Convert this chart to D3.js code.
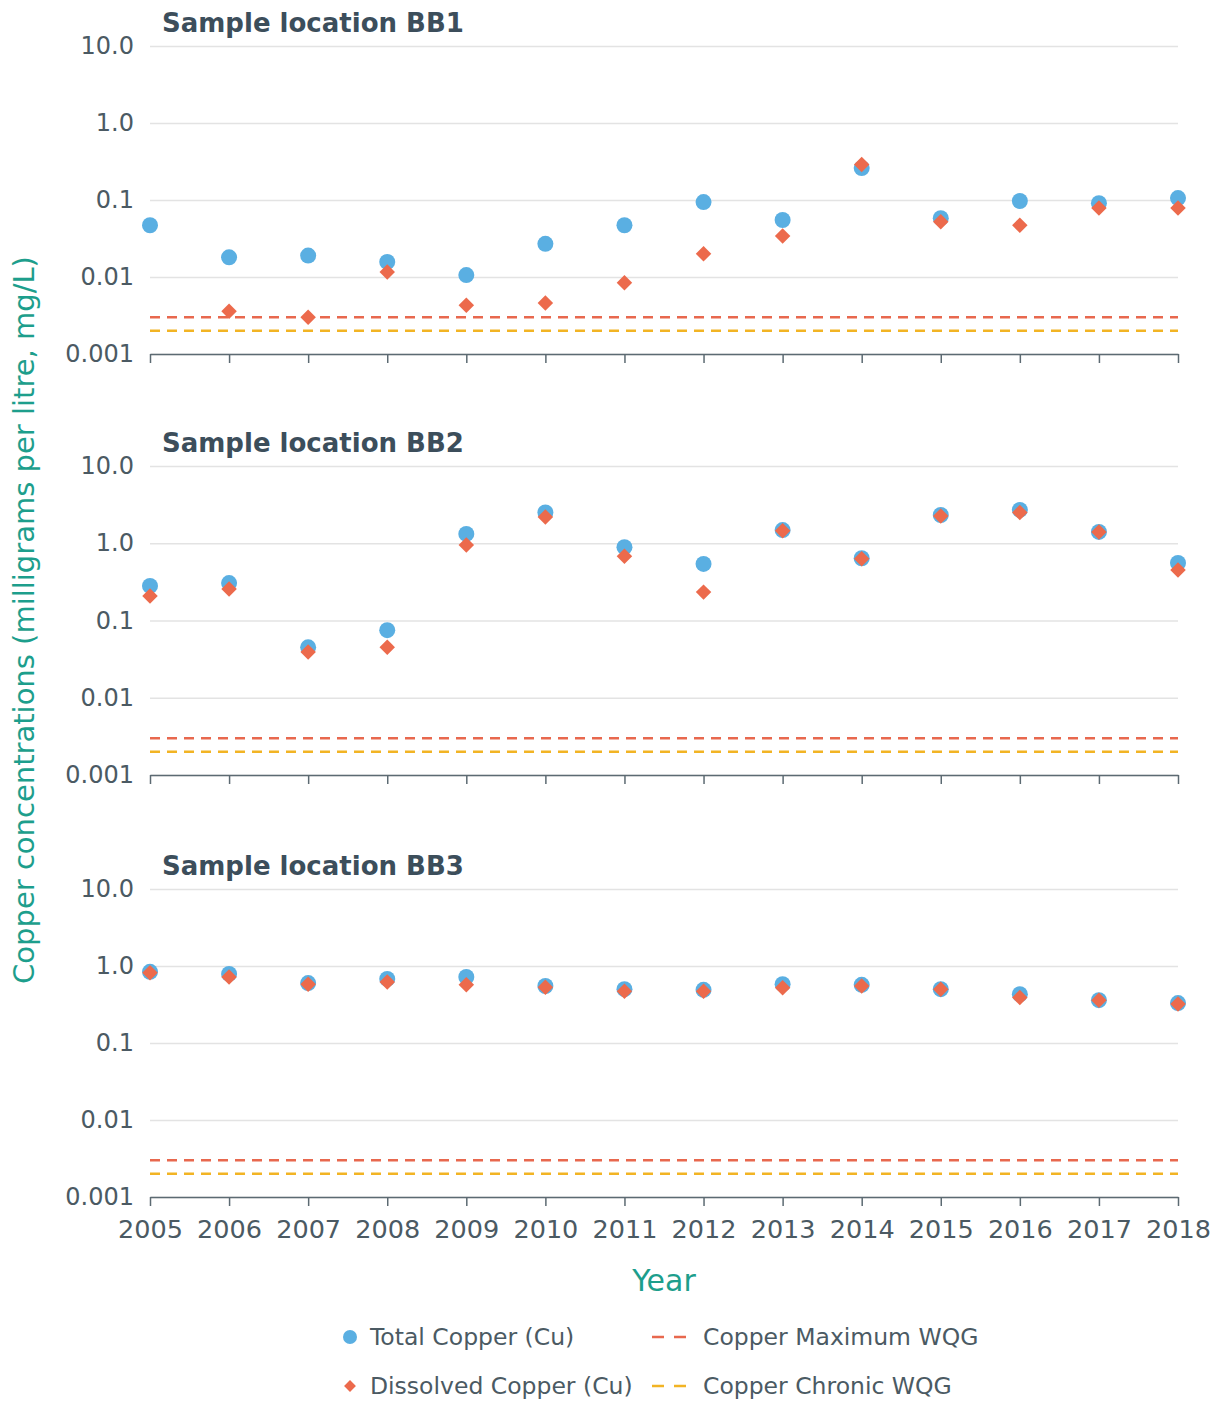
<!DOCTYPE html>
<html>
<head>
<meta charset="utf-8">
<script src="https://cdn.jsdelivr.net/npm/d3@7"></script>
<style>
  body { margin: 0; background: #fff; }
  svg text { font-family: "DejaVu Sans", sans-serif; }
</style>
</head>
<body>
<svg id="chart"></svg>
<script>
// data
const years = [2005, 2006, 2007, 2008, 2009, 2010, 2011, 2012, 2013, 2014, 2015, 2016, 2017, 2018];
const locations = ["BB1", "BB2", "BB3"];

const totalBB1 = [0.047, 0.018, 0.019, 0.0157, 0.0106, 0.027, 0.047, 0.094, 0.055, 0.26, 0.058, 0.097, 0.091, 0.106];
const dissolvedBB1 = [null, 0.0036, 0.0030, 0.0116, 0.0043, 0.0046, 0.0084, 0.020, 0.034, 0.29, 0.052, 0.047, 0.079, 0.079];

const totalBB2 = [0.28, 0.305, 0.045, 0.075, 1.32, 2.5, 0.89, 0.54, 1.48, 0.64, 2.32, 2.7, 1.4, 0.555];
const dissolvedBB2 = [0.207, 0.255, 0.039, 0.045, 0.95, 2.19, 0.68, 0.233, 1.45, 0.63, 2.25, 2.5, 1.4, 0.45];

const totalBB3 = [0.84, 0.79, 0.60, 0.68, 0.72, 0.55, 0.50, 0.49, 0.58, 0.57, 0.50, 0.43, 0.36, 0.33];
const dissolvedBB3 = [0.82, 0.72, 0.58, 0.62, 0.57, 0.53, 0.47, 0.47, 0.52, 0.55, 0.50, 0.39, 0.36, 0.32];

const maxWQG = 0.003;
const chronicWQG = 0.002;

const yTicks = [0.001, 0.01, 0.1, 1, 10];
const yTickLabels = ["0.001", "0.01", "0.1", "1.0", "10.0"];

const totals = [totalBB1, totalBB2, totalBB3];
const dissolved = [dissolvedBB1, dissolvedBB2, dissolvedBB3];

const width = 1227, height = 1402;
const blue = "#5aafe2", red = "#ec6a4c", maxColor = "#e8684e", chronicColor = "#f2b424";
const textColor = "#4b5a63", titleColor = "#3c4e5b", teal = "#1d9e8c";

const svg = d3.select("#chart").attr("width", width).attr("height", height);

const x = d3.scaleLinear().domain([2005, 2018]).range([150, 1178]);

// top / bottom pixel of each panel (10 and 0.001)
const panels = [
    { top: 46, bottom: 354 },
    { top: 466, bottom: 775 },
    { top: 889, bottom: 1197 }
];

const diamond = d3.symbol(d3.symbolSquare, 120);

panels.forEach((p, i) => {
    const y = d3.scaleLog().domain([0.001, 10]).range([p.bottom, p.top]);
    const g = svg.append("g");

    // gridlines + tick labels
    const yAxis = d3.axisLeft(y)
        .tickValues(yTicks)
        .tickFormat((d, k) => yTickLabels[k])
        .tickSize(-(x.range()[1] - x.range()[0]))
        .tickPadding(16);
    const yg = g.append("g").attr("transform", `translate(${x.range()[0]},0)`).call(yAxis);
    yg.select(".domain").remove();
    yg.selectAll(".tick line").attr("stroke", "#e3e3e3").attr("stroke-width", 1.5);
    yg.selectAll(".tick text")
        .attr("fill", textColor)
        .attr("font-size", 24)
        .attr("font-family", "DejaVu Sans");

    // guideline lines
    g.append("line")
        .attr("x1", x.range()[0]).attr("x2", x.range()[1])
        .attr("y1", y(maxWQG)).attr("y2", y(maxWQG))
        .attr("stroke", maxColor).attr("stroke-width", 2.5)
        .attr("stroke-dasharray", "10,7");
    g.append("line")
        .attr("x1", x.range()[0]).attr("x2", x.range()[1])
        .attr("y1", y(chronicWQG)).attr("y2", y(chronicWQG))
        .attr("stroke", chronicColor).attr("stroke-width", 2.5)
        .attr("stroke-dasharray", "10,7");

    // x axis
    const xAxis = d3.axisBottom(x)
        .tickValues(years)
        .tickFormat(i === 2 ? d3.format("d") : "")
        .tickSize(9)
        .tickSizeOuter(0)
        .tickPadding(14);
    const xg = g.append("g").attr("transform", `translate(0,${p.bottom})`).call(xAxis);
    xg.select(".domain").attr("stroke", "#5c6a72").attr("stroke-width", 1.5);
    xg.selectAll(".tick line").attr("stroke", "#5c6a72").attr("stroke-width", 1.5);
    xg.selectAll(".tick text")
        .attr("fill", textColor)
        .attr("font-size", 25.5)
        .attr("font-family", "DejaVu Sans");

    // title
    g.append("text")
        .attr("x", 162).attr("y", p.top - 14)
        .attr("fill", titleColor)
        .attr("font-size", 26)
        .attr("font-weight", "bold")
        .text("Sample location " + locations[i]);

    // total copper
    g.selectAll("circle.total")
        .data(years.map((yr, k) => ({ yr, v: totals[i][k] })).filter(d => d.v != null))
        .join("circle")
        .attr("class", "total")
        .attr("cx", d => x(d.yr))
        .attr("cy", d => y(d.v))
        .attr("r", 8)
        .attr("fill", blue);

    // dissolved copper
    g.selectAll("path.dissolved")
        .data(years.map((yr, k) => ({ yr, v: dissolved[i][k] })).filter(d => d.v != null))
        .join("path")
        .attr("class", "dissolved")
        .attr("d", diamond)
        .attr("transform", d => `translate(${x(d.yr)},${y(d.v)}) rotate(45)`)
        .attr("fill", red);
});

// axis titles
svg.append("text")
    .attr("x", 664).attr("y", 1291)
    .attr("text-anchor", "middle")
    .attr("fill", teal)
    .attr("font-size", 30)
    .text("Year");

svg.append("text")
    .attr("transform", "translate(34,620) rotate(-90)")
    .attr("text-anchor", "middle")
    .attr("fill", teal)
    .attr("font-size", 29)
    .text("Copper concentrations (milligrams per litre, mg/L)");

// legend
const legend = svg.append("g");
legend.append("circle").attr("cx", 350).attr("cy", 1337).attr("r", 7).attr("fill", blue);
legend.append("path")
    .attr("d", d3.symbol(d3.symbolSquare, 70))
    .attr("transform", "translate(350,1386) rotate(45)")
    .attr("fill", red);
[[1337, maxColor], [1386, chronicColor]].forEach(([ly, c]) => {
    legend.append("line")
        .attr("x1", 652).attr("x2", 688)
        .attr("y1", ly).attr("y2", ly)
        .attr("stroke", c).attr("stroke-width", 2.5)
        .attr("stroke-dasharray", "12,10");
});
const legendItems = [
    { x: 370, y: 1337, label: "Total Copper (Cu)" },
    { x: 370, y: 1386, label: "Dissolved Copper (Cu)" },
    { x: 703, y: 1337, label: "Copper Maximum WQG" },
    { x: 703, y: 1386, label: "Copper Chronic WQG" }
];
legend.selectAll("text")
    .data(legendItems)
    .join("text")
    .attr("x", d => d.x)
    .attr("y", d => d.y)
    .attr("dy", "0.35em")
    .attr("fill", textColor)
    .attr("font-size", 23.5)
    .text(d => d.label);
</script>
</body>
</html>
